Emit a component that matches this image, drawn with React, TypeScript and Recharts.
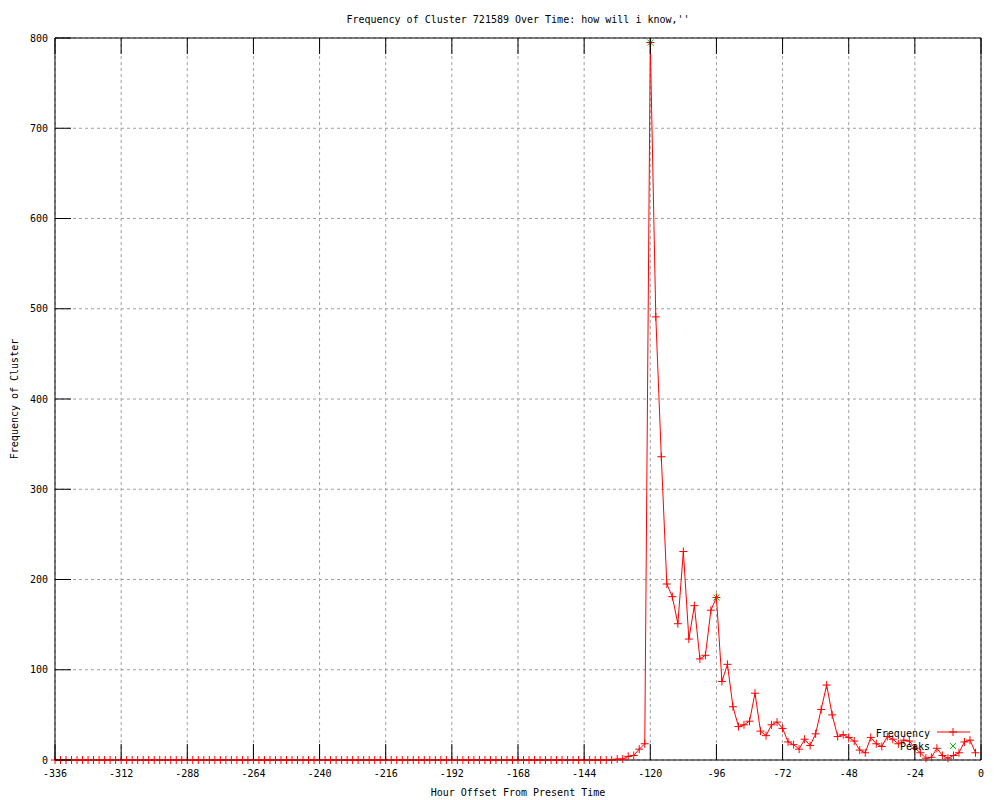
import {
  ComposedChart,
  Line,
  Scatter,
  XAxis,
  YAxis,
  CartesianGrid,
  Legend,
} from "recharts";

const FONT = "'DejaVu Sans Mono', monospace";

// buckets every 2 hours, first one at -336
const START_HOUR = -336;
const STEP_HOURS = 2;

const frequency: number[] = [
  // -336 .. -134
  0, 0, 0, 0, 0, 0, 0, 0, 0, 0,
  0, 0, 0, 0, 0, 0, 0, 0, 0, 0,
  0, 0, 0, 0, 0, 0, 0, 0, 0, 0,
  0, 0, 0, 0, 0, 0, 0, 0, 0, 0,
  0, 0, 0, 0, 0, 0, 0, 0, 0, 0,
  0, 0, 0, 0, 0, 0, 0, 0, 0, 0,
  0, 0, 0, 0, 0, 0, 0, 0, 0, 0,
  0, 0, 0, 0, 0, 0, 0, 0, 0, 0,
  0, 0, 0, 0, 0, 0, 0, 0, 0, 0,
  0, 0, 0, 0, 0, 0, 0, 0, 0, 0,
  0, 0,
  // -132 .. -122
  1, 1, 4, 5, 12, 18,
  // -120 .. -96
  795, 491, 336, 195, 181, 151, 231, 134, 171, 112, 116, 166, 180,
  // -94 .. -72
  87, 106, 59, 37, 39, 43, 74, 32, 27, 39, 42, 35,
  // -70 .. -48
  20, 17, 12, 23, 16, 29, 56, 83, 50, 26, 28, 25,
  // -46 .. -24
  21, 11, 8, 25, 18, 15, 26, 23, 18, 22, 21, 13,
  // -22 .. -2
  8, 2, 3, 13, 5, 2, 5, 8, 20, 22, 8,
];

const peakHours = [-120, -96];
const peakValues = [795, 180];

const xTicks = [-336, -312, -288, -264, -240, -216, -192, -168, -144, -120, -96, -72, -48, -24, 0];
const yTicks = [0, 100, 200, 300, 400, 500, 600, 700, 800];

const freqData = frequency.map((v, i) => ({ hour: START_HOUR + i * STEP_HOURS, frequency: v }));
const peakData = peakHours.map((h, i) => ({ hour: h, peak: peakValues[i] }));

const TICK_LEN = 16;

function BottomTick({ x, y, payload }: any) {
  // y is label position (axis + tickMargin 10)
  return (
    <g>
      <line x1={x} y1={y - 10} x2={x} y2={y - 10 - TICK_LEN} stroke="#000" />
      <text x={x} y={y} dy="0.71em" textAnchor="middle" fontSize={10} fontFamily={FONT} fill="#000">
        {payload.value}
      </text>
    </g>
  );
}

function TopTick({ x, y }: any) {
  return <line x1={x} y1={y} x2={x} y2={y + TICK_LEN} stroke="#000" />;
}

function LeftTick({ x, y, payload }: any) {
  return (
    <g>
      <line x1={x + 7} y1={y} x2={x + 7 + TICK_LEN} y2={y} stroke="#000" />
      <text x={x} y={y} dy="0.355em" textAnchor="end" fontSize={10} fontFamily={FONT} fill="#000">
        {payload.value}
      </text>
    </g>
  );
}

function RightTick({ x, y }: any) {
  return <line x1={x} y1={y} x2={x - TICK_LEN} y2={y} stroke="#000" />;
}

function PlusDot({ cx, cy, index }: any) {
  if (cx == null || cy == null) return <g key={index} />;
  return (
    <g key={index}>
      <line x1={cx - 4} y1={cy} x2={cx + 4} y2={cy} stroke="#ff0000" />
      <line x1={cx} y1={cy - 4} x2={cx} y2={cy + 4} stroke="#ff0000" />
    </g>
  );
}

function CrossMark({ cx, cy }: any) {
  return (
    <g>
      <line x1={cx - 3} y1={cy - 3} x2={cx + 3} y2={cy + 3} stroke="#00c000" />
      <line x1={cx - 3} y1={cy + 3} x2={cx + 3} y2={cy - 3} stroke="#00c000" />
    </g>
  );
}

function KeyBox() {
  return (
    <svg width={110} height={35} style={{ display: "block" }}>
      <text x={60} y={17} textAnchor="end" fontSize={10} fontFamily={FONT} fill="#000">
        Frequency
      </text>
      <line x1={67} y1={12} x2={100} y2={12} stroke="#ff0000" />
      <line x1={79} y1={12} x2={87} y2={12} stroke="#ff0000" />
      <line x1={83} y1={8} x2={83} y2={16} stroke="#ff0000" />
      <text x={60} y={30} textAnchor="end" fontSize={10} fontFamily={FONT} fill="#000">
        Peaks
      </text>
      <line x1={80} y1={23} x2={86} y2={29} stroke="#00c000" />
      <line x1={80} y1={29} x2={86} y2={23} stroke="#00c000" />
    </svg>
  );
}

export default function App() {
  return (
    <div style={{ position: "absolute", left: 0, top: 0, width: 1000, height: 800, background: "#fff" }}>
      <ComposedChart
        width={1000}
        height={800}
        data={freqData}
        margin={{ top: 0, right: 0, bottom: 0, left: 0 }}
      >
        <CartesianGrid stroke="#a0a0a0" strokeDasharray="3 3" />
        <XAxis
          dataKey="hour"
          type="number"
          domain={[-336, 0]}
          ticks={xTicks}
          interval={0}
          height={40}
          tickSize={0}
          tickMargin={10}
          tickLine={false}
          axisLine={{ stroke: "#000" }}
          tick={<BottomTick />}
          label={{
            content: ({ viewBox }: any) => (
              <text
                x={viewBox.x + viewBox.width / 2}
                y={viewBox.y + 36}
                textAnchor="middle"
                fontSize={10}
                fontFamily={FONT}
                fill="#000"
              >
                Hour Offset From Present Time
              </text>
            ),
          }}
        />
        <XAxis
          xAxisId="top"
          orientation="top"
          dataKey="hour"
          type="number"
          domain={[-336, 0]}
          ticks={xTicks}
          interval={0}
          height={38}
          tickSize={0}
          tickMargin={0}
          tickLine={false}
          axisLine={{ stroke: "#000" }}
          tick={<TopTick />}
          label={{
            content: ({ viewBox }: any) => (
              <text
                x={viewBox.x + viewBox.width / 2}
                y={23}
                textAnchor="middle"
                fontSize={10}
                fontFamily={FONT}
                fill="#000"
              >
                {"Frequency of Cluster 721589 Over Time: how will i know,''"}
              </text>
            ),
          }}
        />
        <YAxis
          type="number"
          domain={[0, 800]}
          ticks={yTicks}
          interval={0}
          width={55}
          tickSize={0}
          tickMargin={7}
          tickLine={false}
          axisLine={{ stroke: "#000" }}
          tick={<LeftTick />}
          label={{
            content: ({ viewBox }: any) => {
              const cy = viewBox.y + viewBox.height / 2;
              return (
                <text
                  x={18}
                  y={cy}
                  transform={`rotate(-90 18 ${cy})`}
                  textAnchor="middle"
                  fontSize={10}
                  fontFamily={FONT}
                  fill="#000"
                >
                  Frequency of Cluster
                </text>
              );
            },
          }}
        />
        <YAxis
          yAxisId="right"
          orientation="right"
          type="number"
          domain={[0, 800]}
          ticks={yTicks}
          interval={0}
          width={19}
          tickSize={0}
          tickMargin={0}
          tickLine={false}
          axisLine={{ stroke: "#000" }}
          tick={<RightTick />}
        />
        <Line
          type="linear"
          dataKey="frequency"
          stroke="#ff0000"
          strokeWidth={1}
          dot={PlusDot}
          activeDot={false}
          isAnimationActive={false}
        />
        <Scatter data={peakData} dataKey="peak" shape={CrossMark} isAnimationActive={false} />
        <Legend
          layout="horizontal"
          verticalAlign="middle"
          align="center"
          wrapperStyle={{ left: 870, top: 720, width: 110, height: 35 }}
          content={() => <KeyBox />}
        />
      </ComposedChart>
    </div>
  );
}
